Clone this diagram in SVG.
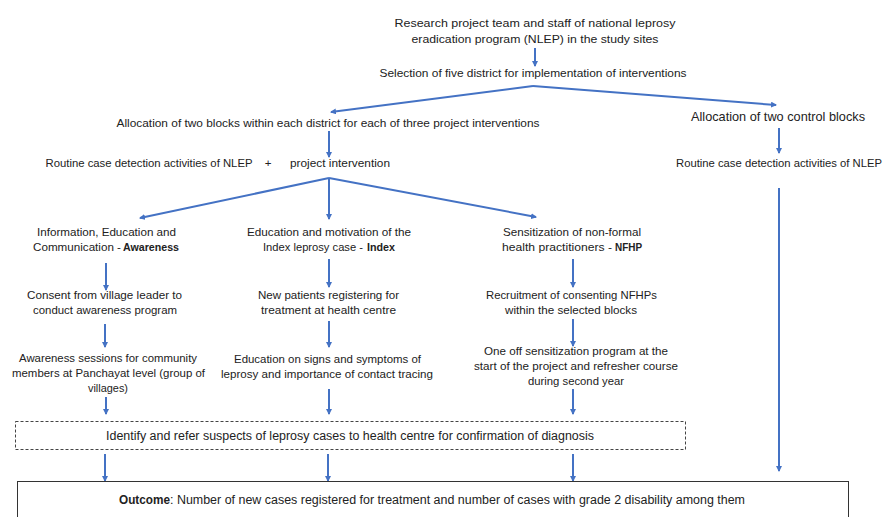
<svg xmlns="http://www.w3.org/2000/svg" width="885" height="517" viewBox="0 0 885 517">
<style>
text{font-family:"Liberation Sans",Arial,sans-serif;font-size:11.5px;fill:#222;text-anchor:middle}
.s{text-anchor:start}
.lg{font-size:13px}
.md{font-size:12.5px}
.b{font-weight:bold}
.c{stroke:#4472C4;stroke-width:2;fill:none}
</style>
<defs>
<marker id="ah" markerWidth="6" markerHeight="6" refX="5" refY="3" orient="auto" markerUnits="userSpaceOnUse">
<path d="M0,0 L6,3 L0,6 Z" fill="#4472C4"/>
</marker>
</defs>
<rect width="885" height="517" fill="#fff"/>
<g id="connectors">
<line class="c" x1="535" y1="48" x2="535" y2="66" marker-end="url(#ah)"/>
<polyline class="c" points="533,86 331,112" marker-end="url(#ah)"/>
<polyline class="c" points="533,86 776,105" marker-end="url(#ah)"/>
<line class="c" x1="329" y1="131" x2="329" y2="157" marker-end="url(#ah)"/>
<line class="c" x1="779" y1="128" x2="779" y2="153" marker-end="url(#ah)"/>
<line class="c" x1="329" y1="178" x2="140" y2="218" marker-end="url(#ah)"/>
<line class="c" x1="329" y1="178" x2="329" y2="219" marker-end="url(#ah)"/>
<line class="c" x1="329" y1="178" x2="536" y2="217" marker-end="url(#ah)"/>
<line class="c" x1="779" y1="188" x2="779" y2="471" marker-end="url(#ah)"/>
<line class="c" x1="106" y1="263" x2="106" y2="290" marker-end="url(#ah)"/>
<line class="c" x1="105" y1="324" x2="105" y2="347" marker-end="url(#ah)"/>
<line class="c" x1="106" y1="397" x2="106" y2="414" marker-end="url(#ah)"/>
<line class="c" x1="329" y1="259" x2="329" y2="287" marker-end="url(#ah)"/>
<line class="c" x1="329" y1="321" x2="329" y2="347" marker-end="url(#ah)"/>
<line class="c" x1="329" y1="389" x2="329" y2="414" marker-end="url(#ah)"/>
<line class="c" x1="573" y1="259" x2="573" y2="287" marker-end="url(#ah)"/>
<line class="c" x1="573" y1="319" x2="573" y2="346" marker-end="url(#ah)"/>
<line class="c" x1="573" y1="389" x2="573" y2="414" marker-end="url(#ah)"/>
<line class="c" x1="105" y1="454" x2="105" y2="481" marker-end="url(#ah)"/>
<line class="c" x1="328" y1="454" x2="328" y2="481" marker-end="url(#ah)"/>
<line class="c" x1="573" y1="454" x2="573" y2="481" marker-end="url(#ah)"/>
</g>
<g id="top">
<text x="535" y="27" textLength="281" lengthAdjust="spacingAndGlyphs">Research project team and staff of national leprosy</text>
<text x="535" y="43" textLength="247" lengthAdjust="spacingAndGlyphs">eradication program (NLEP) in the study sites</text>
</g>
<g id="selection">
<text x="533" y="77" textLength="307" lengthAdjust="spacingAndGlyphs">Selection of five district for implementation of interventions</text>
</g>
<g id="alloc-int">
<text x="328" y="127" textLength="423" lengthAdjust="spacingAndGlyphs">Allocation of two blocks within each district for each of three project interventions</text>
</g>
<g id="alloc-ctrl">
<text class="lg" x="778" y="121" textLength="174" lengthAdjust="spacingAndGlyphs">Allocation of two control blocks</text>
</g>
<g id="routine-int">
<text x="149" y="167" textLength="207" lengthAdjust="spacingAndGlyphs">Routine case detection activities of NLEP</text>
<text x="268" y="167">+</text>
<text x="340" y="167" textLength="100" lengthAdjust="spacingAndGlyphs">project intervention</text>
</g>
<g id="routine-ctrl">
<text x="779" y="167" textLength="206" lengthAdjust="spacingAndGlyphs">Routine case detection activities of NLEP</text>
</g>
<g id="awareness">
<text x="106.5" y="236" textLength="139" lengthAdjust="spacingAndGlyphs">Information, Education and</text>
<text class="s" x="33" y="251" textLength="88" lengthAdjust="spacingAndGlyphs">Communication -</text>
<text class="s b" x="123" y="251" textLength="56" lengthAdjust="spacingAndGlyphs">Awareness</text>
</g>
<g id="consent">
<text x="104.5" y="299" textLength="155" lengthAdjust="spacingAndGlyphs">Consent from village leader to</text>
<text x="105" y="314" textLength="144" lengthAdjust="spacingAndGlyphs">conduct awareness program</text>
</g>
<g id="sessions">
<text x="108" y="362" textLength="178" lengthAdjust="spacingAndGlyphs">Awareness sessions for community</text>
<text x="108.5" y="377" textLength="193" lengthAdjust="spacingAndGlyphs">members at Panchayat level (group of</text>
<text x="108" y="392" textLength="40" lengthAdjust="spacingAndGlyphs">villages)</text>
</g>
<g id="index">
<text x="329" y="236" textLength="164" lengthAdjust="spacingAndGlyphs">Education and motivation of the</text>
<text class="s" x="263" y="251" textLength="100" lengthAdjust="spacingAndGlyphs">Index leprosy case -</text>
<text class="s b" x="367" y="251" textLength="28" lengthAdjust="spacingAndGlyphs">Index</text>
</g>
<g id="new-patients">
<text x="328.5" y="299" textLength="141" lengthAdjust="spacingAndGlyphs">New patients registering for</text>
<text x="328.5" y="314" textLength="135" lengthAdjust="spacingAndGlyphs">treatment at health centre</text>
</g>
<g id="education">
<text x="327.5" y="363" textLength="187" lengthAdjust="spacingAndGlyphs">Education on signs and symptoms of</text>
<text x="327" y="378" textLength="212" lengthAdjust="spacingAndGlyphs">leprosy and importance of contact tracing</text>
</g>
<g id="nfhp">
<text x="572" y="236" textLength="138" lengthAdjust="spacingAndGlyphs">Sensitization of non-formal</text>
<text class="s" x="502" y="251" textLength="110" lengthAdjust="spacingAndGlyphs">health practitioners  -</text>
<text class="s b" x="615" y="251" textLength="27" lengthAdjust="spacingAndGlyphs">NFHP</text>
</g>
<g id="recruitment">
<text x="571.5" y="299" textLength="171" lengthAdjust="spacingAndGlyphs">Recruitment of consenting NFHPs</text>
<text x="571" y="314" textLength="132" lengthAdjust="spacingAndGlyphs">within the selected blocks</text>
</g>
<g id="sensitization">
<text x="576" y="355" textLength="184" lengthAdjust="spacingAndGlyphs">One off sensitization program at the</text>
<text x="576" y="370" textLength="204" lengthAdjust="spacingAndGlyphs">start of the project and refresher course</text>
<text x="576" y="385" textLength="96" lengthAdjust="spacingAndGlyphs">during second year</text>
</g>
<g id="identify">
<rect x="15.5" y="421.5" width="670" height="28" fill="none" stroke="#444" stroke-width="1" stroke-dasharray="3,2"/>
<text class="md" x="350" y="440" textLength="488" lengthAdjust="spacingAndGlyphs">Identify and refer suspects of leprosy cases to health centre for confirmation of diagnosis</text>
</g>
<g id="outcome">
<rect x="17.5" y="481.5" width="831" height="40" fill="none" stroke="#333" stroke-width="1"/>
<text class="md s b" x="119" y="504" textLength="51" lengthAdjust="spacingAndGlyphs">Outcome</text>
<text class="md s" x="170" y="504" textLength="575" lengthAdjust="spacingAndGlyphs">: Number of new cases registered for treatment and number of cases with grade 2 disability among them</text>
</g>
</svg>
